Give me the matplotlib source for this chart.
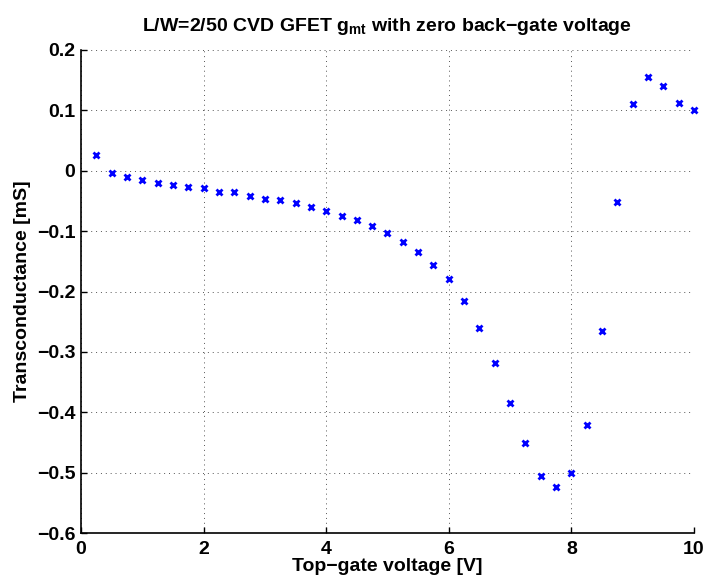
import numpy as np
import matplotlib
matplotlib.use('Agg')
import matplotlib.pyplot as plt

plt.rcParams['font.family'] = ['Liberation Sans', 'DejaVu Sans']
plt.rcParams['font.weight'] = 'bold'
plt.rcParams['mathtext.fontset'] = 'custom'
plt.rcParams['mathtext.rm'] = 'Liberation Sans:bold'
plt.rcParams['mathtext.it'] = 'Liberation Sans:bold'
plt.rcParams['mathtext.bf'] = 'Liberation Sans:bold'

# top-gate voltage [V]
vtg = [0.25, 0.5, 0.75, 1.0, 1.25, 1.5, 1.75, 2.0, 2.25, 2.5,
       2.75, 3.0, 3.25, 3.5, 3.75, 4.0, 4.25, 4.5, 4.75, 5.0,
       5.25, 5.5, 5.75, 6.0, 6.25, 6.5, 6.75, 7.0, 7.25, 7.5,
       7.75, 8.0, 8.25, 8.5, 8.75, 9.0, 9.25, 9.5, 9.75, 10.0]
# transconductance [mS]
gm = [0.026, -0.003, -0.011, -0.015, -0.021, -0.024, -0.027, -0.029, -0.035, -0.036,
      -0.041, -0.046, -0.049, -0.054, -0.060, -0.066, -0.075, -0.082, -0.091, -0.103,
      -0.118, -0.134, -0.156, -0.180, -0.215, -0.260, -0.319, -0.385, -0.451, -0.505,
      -0.524, -0.501, -0.421, -0.266, -0.051, 0.111, 0.156, 0.140, 0.113, 0.100]

xticks = [0, 2, 4, 6, 8, 10]
yticks = [-0.6, -0.5, -0.4, -0.3, -0.2, -0.1, 0, 0.1, 0.2]

fig = plt.figure(figsize=(7.06, 5.86), dpi=100)
ax = fig.add_axes([0.1147, 0.0904, 0.8683, 0.8243])

ax.plot(vtg, gm, 'x', color='blue', markersize=5, markeredgewidth=2, clip_on=False, zorder=3)

ax.set_xlim(0, 10)
ax.set_ylim(-0.6, 0.2)
ax.set_xticks(xticks)
ax.set_yticks(yticks)
ax.set_xticklabels([str(t) for t in xticks])
ax.set_yticklabels(['\u22120.6', '\u22120.5', '\u22120.4', '\u22120.3', '\u22120.2',
                    '\u22120.1', '0', '0.1', '0.2'])
ax.tick_params(direction='in', length=4, width=1, labelsize=14)
ax.tick_params(axis='x', pad=6)
ax.tick_params(axis='y', pad=4)
for lab in ax.get_xticklabels() + ax.get_yticklabels():
    lab.set_fontweight('bold')

ax.spines['top'].set_visible(False)
ax.spines['right'].set_visible(False)
ax.spines['left'].set_linewidth(1.2)
ax.spines['bottom'].set_linewidth(1.2)
ax.grid(True, linestyle=(0, (1, 4)), color='#555555', linewidth=0.7)
ax.set_axisbelow(True)

ax.set_xlabel('Top\u2212gate voltage [V]', fontsize=14, fontweight='bold', labelpad=0)
ax.set_ylabel('Transconductance [mS]', fontsize=14, fontweight='bold', labelpad=4)
ax.set_title('L/W=2/50 CVD GFET g$_{mt}$ with zero back\u2212gate voltage',
             fontsize=14, fontweight='bold', pad=14)

fig.savefig('out.png', dpi=100)
